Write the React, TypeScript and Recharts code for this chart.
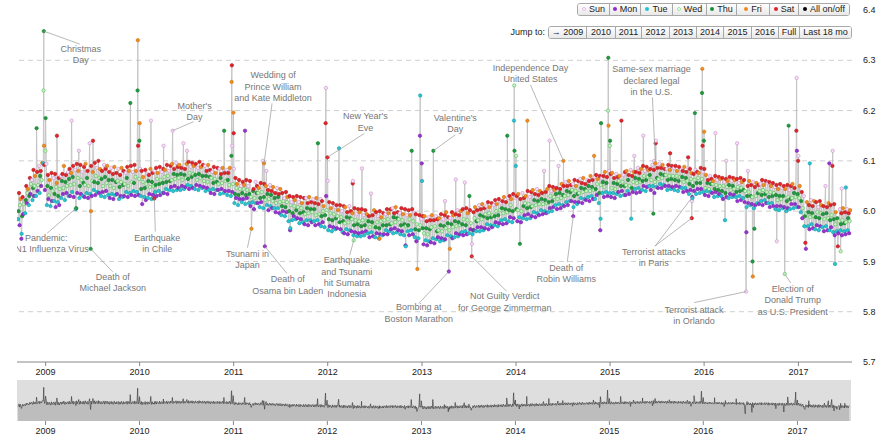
import React from "react";
import {
  ComposedChart,
  Line,
  Area,
  XAxis,
  YAxis,
  ReferenceLine,
  ReferenceDot,
  ReferenceArea,
} from "recharts";

// ---- data ----

// weekly band values: a "high" (weekend), "mid" (Wed/Thu) and "low" (Mon/Tue) value per week.
// 2008 weeks start Monday 2008-09-15; other years start on the first Monday of the year.
const hi2008 = [6.036, 6.024, 6.028, 6.022, 6.05, 6.044, 6.066, 6.062, 6.082, 6.07, 6.078, 6.09, 6.08, 6.096, 6.092, 6.094];
const mi2008 = [6.0, 6.012, 5.99, 6.014, 6.022, 6.036, 6.03, 6.054, 6.046, 6.05, 6.066, 6.052, 6.07, 6.062, 6.078, 6.06];
const lo2008 = [5.984, 5.972, 5.966, 5.994, 5.996, 6.016, 6.012, 6.034, 6.022, 6.03, 6.03, 6.04, 6.036, 6.05, 6.046, 6.042];

const hi2009 = [
  6.072, 6.062, 6.076, 6.066, 6.074, 6.056, 6.066, 6.07, 6.074, 6.09, 6.072, 6.078, 6.084,
  6.076, 6.09, 6.082, 6.094, 6.08, 6.092, 6.078, 6.088, 6.094, 6.08, 6.086, 6.09, 6.078,
  6.096, 6.086, 6.1, 6.084, 6.08, 6.092, 6.084, 6.09, 6.078, 6.086, 6.074, 6.088, 6.076,
  6.084, 6.072, 6.086, 6.08, 6.076, 6.088, 6.08, 6.09, 6.078, 6.092, 6.08, 6.094, 6.084,
];
const mi2009 = [
  6.05, 6.032, 6.046, 6.04, 6.034, 6.048, 6.03, 6.044, 6.06, 6.046, 6.058, 6.05, 6.064,
  6.052, 6.068, 6.054, 6.046, 6.066, 6.05, 6.062, 6.056, 6.052, 6.066, 6.05, 6.064, 6.06,
  6.058, 6.07, 6.056, 6.066, 6.064, 6.05, 6.068, 6.056, 6.062, 6.05, 6.062, 6.046, 6.058,
  6.06, 6.048, 6.058, 6.052, 6.054, 6.066, 6.05, 6.062, 6.058, 6.056, 6.068, 6.058, 6.064,
];
const lo2009 = [
  6.012, 6.024, 6.01, 6.02, 6.02, 6.008, 6.018, 6.012, 6.026, 6.034, 6.022, 6.036, 6.03,
  6.03, 6.038, 6.028, 6.004, 6.036, 6.026, 6.034, 6.03, 6.028, 6.036, 6.026, 6.034, 6.03,
  6.042, 6.032, 6.038, 6.036, 6.03, 6.038, 6.028, 6.04, 6.032, 6.026, 6.034, 6.024, 6.032,
  6.034, 6.024, 6.03, 6.028, 6.03, 6.038, 6.028, 6.036, 6.032, 6.04, 6.03, 6.038, 6.032,
];

const hi2010 = [
  6.08, 6.068, 6.082, 6.074, 6.072, 6.084, 6.076, 6.08, 6.086, 6.076, 6.088, 6.078, 6.084,
  6.082, 6.092, 6.08, 6.09, 6.094, 6.084, 6.096, 6.088, 6.092, 6.086, 6.096, 6.084, 6.094,
  6.098, 6.088, 6.096, 6.09, 6.094, 6.086, 6.098, 6.088, 6.092, 6.09, 6.08, 6.092, 6.082,
  6.078, 6.088, 6.076, 6.086, 6.084, 6.074, 6.086, 6.076, 6.082, 6.076, 6.086, 6.078, 6.084,
];
const mi2010 = [
  6.044, 6.058, 6.046, 6.054, 6.06, 6.048, 6.058, 6.05, 6.052, 6.064, 6.054, 6.062, 6.056,
  6.068, 6.058, 6.07, 6.06, 6.062, 6.074, 6.064, 6.072, 6.066, 6.074, 6.062, 6.072, 6.066,
  6.064, 6.076, 6.068, 6.074, 6.072, 6.062, 6.074, 6.066, 6.07, 6.06, 6.07, 6.058, 6.068,
  6.066, 6.056, 6.064, 6.058, 6.054, 6.066, 6.056, 6.064, 6.06, 6.062, 6.052, 6.06, 6.054,
];
const lo2010 = [
  6.03, 6.014, 6.028, 6.022, 6.026, 6.034, 6.024, 6.032, 6.038, 6.03, 6.04, 6.032, 6.036,
  6.036, 6.044, 6.034, 6.042, 6.048, 6.04, 6.05, 6.042, 6.046, 6.042, 6.05, 6.044, 6.048,
  6.052, 6.044, 6.05, 6.046, 6.044, 6.052, 6.042, 6.05, 6.046, 6.048, 6.04, 6.046, 6.042,
  6.036, 6.044, 6.034, 6.042, 6.042, 6.034, 6.044, 6.036, 6.04, 6.032, 6.04, 6.03, 6.038,
];

const hi2011 = [
  6.066, 6.054, 6.062, 6.05, 6.058, 6.052, 6.062, 6.05, 6.06, 6.056, 6.044, 6.058, 6.05,
  6.046, 6.056, 6.044, 6.054, 6.05, 6.042, 6.052, 6.04, 6.048, 6.036, 6.046, 6.034, 6.044,
  6.036, 6.026, 6.038, 6.028, 6.03, 6.018, 6.028, 6.022, 6.03, 6.018, 6.028, 6.016, 6.026,
  6.026, 6.016, 6.028, 6.018, 6.024, 6.016, 6.026, 6.014, 6.024, 6.02, 6.01, 6.022, 6.012,
];
const mi2011 = [
  6.034, 6.046, 6.032, 6.044, 6.036, 6.044, 6.032, 6.042, 6.034, 6.028, 6.04, 6.026, 6.036,
  6.036, 6.026, 6.038, 6.028, 6.022, 6.034, 6.024, 6.032, 6.02, 6.026, 6.016, 6.028, 6.018,
  6.01, 6.02, 6.008, 6.018, 6.0, 6.012, 5.996, 6.01, 6.002, 6.008, 5.996, 6.006, 5.998,
  5.994, 6.006, 5.996, 6.004, 5.998, 6.004, 5.992, 6.002, 5.994, 5.99, 6.0, 5.992, 6.002,
];
const lo2011 = [
  6.016, 6.026, 6.012, 6.024, 6.018, 6.024, 6.014, 6.026, 6.016, 6.01, 6.018, 6.004, 6.016,
  6.016, 6.008, 6.018, 6.006, 6.004, 6.012, 6.002, 6.01, 6.006, 6.006, 5.998, 6.006, 5.996,
  5.992, 6.0, 5.99, 5.998, 5.98, 5.99, 5.982, 5.99, 5.984, 5.986, 5.976, 5.984, 5.978,
  5.974, 5.982, 5.972, 5.982, 5.978, 5.98, 5.972, 5.982, 5.974, 5.97, 5.978, 5.968, 5.976,
];

const hi2012 = [
  6.018, 6.006, 6.016, 6.008, 6.012, 6.002, 6.012, 6.0, 6.01, 6.008, 5.998, 6.01, 6.0,
  5.996, 6.006, 5.994, 6.004, 5.998, 6.004, 5.992, 6.002, 5.994, 5.99, 6.0, 5.992, 6.002,
  5.998, 5.99, 6.0, 5.988, 5.996, 5.994, 6.004, 5.996, 6.004, 6.006, 5.996, 6.008, 5.998,
  5.996, 6.006, 5.994, 6.004, 5.992, 6.002, 5.992, 6.004, 5.996, 5.994, 5.986, 5.992, 5.984, 5.99,
];
const mi2012 = [
  5.984, 5.996, 5.982, 5.994, 5.986, 5.99, 5.978, 5.988, 5.98, 5.976, 5.988, 5.978, 5.986,
  5.984, 5.972, 5.982, 5.974, 5.98, 5.97, 5.982, 5.972, 5.98, 5.98, 5.968, 5.978, 5.97,
  5.968, 5.978, 5.966, 5.98, 5.972, 5.982, 5.972, 5.984, 5.974, 5.976, 5.988, 5.978, 5.986,
  5.984, 5.972, 5.982, 5.974, 5.97, 5.972, 5.984, 5.974, 5.98, 5.964, 5.974, 5.962, 5.972, 5.966,
];
const lo2012 = [
  5.962, 5.97, 5.96, 5.968, 5.964, 5.966, 5.956, 5.964, 5.958, 5.956, 5.964, 5.954, 5.962,
  5.96, 5.952, 5.958, 5.95, 5.956, 5.95, 5.958, 5.952, 5.96, 5.956, 5.948, 5.958, 5.95,
  5.948, 5.956, 5.946, 5.954, 5.952, 5.954, 5.962, 5.954, 5.96, 5.964, 5.956, 5.966, 5.958,
  5.962, 5.954, 5.96, 5.952, 5.948, 5.96, 5.952, 5.962, 5.954, 5.948, 5.94, 5.946, 5.938, 5.944,
];

const hi2013 = [
  5.99, 5.98, 5.988, 5.982, 5.992, 5.982, 5.99, 5.984, 5.986, 5.994, 5.984, 5.992, 5.998,
  5.988, 5.986, 5.998, 5.992, 5.994, 6.002, 5.992, 6.0, 6.004, 5.996, 6.006, 5.996, 6.002,
  6.01, 5.998, 6.008, 6.002, 6.012, 6.004, 6.014, 6.006, 6.01, 6.018, 6.008, 6.016, 6.012,
  6.022, 6.014, 6.024, 6.016, 6.02, 6.028, 6.018, 6.026, 6.03, 6.024, 6.034, 6.026, 6.03,
];
const mi2013 = [
  5.956, 5.966, 5.954, 5.964, 5.968, 5.958, 5.97, 5.96, 5.962, 5.972, 5.96, 5.97, 5.966,
  5.976, 5.962, 5.974, 5.968, 5.98, 5.97, 5.978, 5.972, 5.974, 5.984, 5.972, 5.982, 5.986,
  5.976, 5.962, 5.986, 5.98, 5.982, 5.992, 5.984, 5.99, 5.994, 5.986, 5.996, 5.988, 5.992,
  5.99, 6.0, 5.992, 6.002, 6.006, 5.996, 6.004, 5.998, 6.002, 6.012, 6.0, 6.01, 6.004,
];
const lo2013 = [
  5.934, 5.942, 5.932, 5.94, 5.938, 5.946, 5.936, 5.944, 5.948, 5.94, 5.946, 5.942, 5.944,
  5.952, 5.936, 5.95, 5.946, 5.948, 5.956, 5.95, 5.954, 5.958, 5.952, 5.96, 5.954, 5.956,
  5.964, 5.954, 5.962, 5.96, 5.968, 5.96, 5.968, 5.962, 5.966, 5.974, 5.964, 5.972, 5.968,
  5.972, 5.978, 5.97, 5.976, 5.982, 5.974, 5.984, 5.976, 5.98, 5.988, 5.978, 5.986, 5.984,
];

const hi2014 = [
  6.034, 6.024, 6.036, 6.026, 6.03, 6.04, 6.028, 6.038, 6.042, 6.034, 6.044, 6.032, 6.04,
  6.036, 6.046, 6.038, 6.044, 6.05, 6.04, 6.048, 6.042, 6.046, 6.056, 6.044, 6.054, 6.05,
  6.058, 6.05, 6.06, 6.052, 6.054, 6.062, 6.05, 6.06, 6.064, 6.056, 6.066, 6.054, 6.062,
  6.06, 6.07, 6.062, 6.068, 6.072, 6.064, 6.07, 6.066, 6.07, 6.078, 6.068, 6.08, 6.074,
];
const mi2014 = [
  6.002, 6.012, 6.0, 6.01, 6.016, 6.006, 6.014, 6.008, 6.01, 6.022, 6.012, 6.02, 6.014,
  6.024, 6.014, 6.022, 6.016, 6.018, 6.03, 6.02, 6.028, 6.034, 6.024, 6.036, 6.026, 6.032,
  6.03, 6.04, 6.032, 6.038, 6.042, 6.03, 6.04, 6.034, 6.036, 6.046, 6.038, 6.044, 6.04,
  6.05, 6.04, 6.048, 6.042, 6.044, 6.054, 6.036, 6.052, 6.058, 6.048, 6.056, 6.05, 6.058,
];
const lo2014 = [
  5.98, 5.988, 5.978, 5.986, 5.992, 5.984, 5.994, 5.986, 5.99, 5.998, 5.988, 5.996, 5.992,
  6.002, 5.994, 6.0, 5.996, 5.998, 6.006, 6.0, 6.008, 6.012, 6.004, 6.014, 6.006, 6.012,
  6.01, 6.018, 6.012, 6.02, 6.02, 6.008, 6.018, 6.014, 6.018, 6.026, 6.016, 6.024, 6.022,
  6.028, 6.02, 6.03, 6.024, 6.024, 6.032, 6.016, 6.03, 6.036, 6.028, 6.038, 6.03, 6.036,
];

const hi2015 = [
  6.076, 6.066, 6.074, 6.068, 6.07, 6.08, 6.072, 6.078, 6.08, 6.072, 6.082, 6.07, 6.078,
  6.078, 6.086, 6.076, 6.084, 6.09, 6.08, 6.088, 6.082, 6.084, 6.092, 6.082, 6.09, 6.086,
  6.094, 6.086, 6.092, 6.084, 6.084, 6.092, 6.082, 6.09, 6.086, 6.09, 6.08, 6.088, 6.082,
  6.08, 6.088, 6.078, 6.086, 6.084, 6.076, 6.074, 6.082, 6.078, 6.076, 6.086, 6.078, 6.084,
];
const mi2015 = [
  6.046, 6.056, 6.044, 6.054, 6.06, 6.05, 6.058, 6.05, 6.052, 6.062, 6.05, 6.046, 6.058,
  6.066, 6.056, 6.064, 6.058, 6.06, 6.07, 6.062, 6.068, 6.072, 6.062, 6.07, 6.058, 6.066,
  6.064, 6.074, 6.066, 6.072, 6.072, 6.062, 6.07, 6.064, 6.07, 6.062, 6.07, 6.06, 6.068,
  6.068, 6.058, 6.066, 6.06, 6.054, 6.064, 6.05, 6.062, 6.056, 6.066, 6.056, 6.064, 6.058,
];
const lo2015 = [
  6.028, 6.036, 6.026, 6.034, 6.038, 6.03, 6.04, 6.032, 6.032, 6.04, 6.034, 6.024, 6.038,
  6.044, 6.036, 6.046, 6.038, 6.042, 6.05, 6.04, 6.048, 6.05, 6.042, 6.05, 6.036, 6.048,
  6.046, 6.054, 6.046, 6.052, 6.05, 6.042, 6.05, 6.044, 6.048, 6.042, 6.05, 6.04, 6.048,
  6.046, 6.038, 6.046, 6.04, 6.034, 6.042, 6.026, 6.04, 6.034, 6.044, 6.036, 6.044, 6.038,
];

const hi2016 = [
  6.072, 6.062, 6.07, 6.064, 6.06, 6.07, 6.062, 6.068, 6.064, 6.066, 6.058, 6.064, 6.06,
  6.068, 6.06, 6.066, 6.062, 6.064, 6.056, 6.066, 6.058, 6.062, 6.058, 6.05, 6.06, 6.052,
  6.058, 6.048, 6.056, 6.052, 6.054, 6.062, 6.052, 6.06, 6.056, 6.058, 6.05, 6.056, 6.048,
  6.052, 6.044, 6.054, 6.046, 6.05, 6.044, 6.052, 6.042, 6.05, 6.054, 6.046, 6.056, 6.048,
];
const mi2016 = [
  6.046, 6.056, 6.044, 6.054, 6.054, 6.044, 6.052, 6.042, 6.05, 6.04, 6.05, 6.036, 6.048,
  6.052, 6.042, 6.05, 6.044, 6.038, 6.048, 6.04, 6.046, 6.042, 6.04, 6.03, 6.038, 6.03,
  6.028, 6.038, 6.03, 6.036, 6.04, 6.032, 6.042, 6.034, 6.038, 6.028, 6.038, 6.03, 6.036,
  6.032, 6.022, 6.03, 6.024, 6.03, 6.03, 6.02, 6.028, 6.024, 6.026, 6.036, 6.028, 6.034,
];
const lo2016 = [
  6.032, 6.04, 6.03, 6.038, 6.036, 6.028, 6.038, 6.03, 6.034, 6.03, 6.024, 6.018, 6.028,
  6.026, 6.034, 6.028, 6.032, 6.028, 6.02, 6.03, 6.022, 6.026, 6.018, 6.008, 6.016, 6.012,
  6.014, 6.006, 6.012, 6.016, 6.014, 6.02, 6.012, 6.022, 6.016, 6.016, 6.008, 6.016, 6.01,
  6.004, 6.01, 6.002, 6.01, 6.006, 6.008, 6.0, 6.006, 6.004, 6.014, 6.006, 6.014, 6.008,
];

const hi2017 = [
  6.05, 6.038, 6.03, 6.014, 6.018, 6.012, 6.022, 6.01, 6.02, 6.018, 6.008, 6.02, 6.012,
  6.01, 6.018, 6.008, 6.016, 6.012, 6.004, 6.014, 5.998, 6.008, 6.004, 5.996, 6.006, 5.998,
  6.004, 5.996, 6.002,
];
const mi2017 = [
  6.026, 6.02, 6.006, 5.99, 5.996, 5.998, 5.988, 5.996, 5.99, 5.988, 5.998, 5.986, 5.996,
  5.994, 5.984, 5.996, 5.986, 5.982, 5.992, 5.984, 5.974, 5.986, 5.98, 5.974, 5.982, 5.976,
  5.978, 5.986, 5.98,
];
const lo2017 = [
  6.008, 5.998, 5.986, 5.97, 5.964, 5.97, 5.964, 5.974, 5.966, 5.964, 5.972, 5.962, 5.97,
  5.968, 5.96, 5.97, 5.962, 5.962, 5.968, 5.958, 5.952, 5.96, 5.956, 5.962, 5.952, 5.96,
  5.954, 5.962, 5.956,
];

// single days that stand out from the band (holidays, news events)
const events: [string, number][] = [
  ["2008-09-29", 5.945], ["2008-09-30", 5.955], ["2008-11-27", 6.165], ["2008-12-23", 6.095],
  ["2008-12-24", 6.24], ["2008-12-25", 6.358], ["2008-12-26", 6.13], ["2008-12-31", 6.12],
  ["2009-01-01", 6.185], ["2009-02-14", 6.15], ["2009-04-12", 6.18], ["2009-04-30", 6.006],
  ["2009-05-10", 6.12], ["2009-06-21", 6.135], ["2009-06-25", 5.925], ["2009-06-26", 6.0],
  ["2009-07-04", 6.14], ["2009-11-26", 6.215], ["2009-12-24", 6.24], ["2009-12-25", 6.34],
  ["2009-12-26", 6.13], ["2009-12-31", 6.14], ["2010-01-01", 6.175], ["2010-02-14", 6.18],
  ["2010-02-27", 6.025], ["2010-04-04", 6.13], ["2010-05-09", 6.16], ["2010-06-20", 6.135],
  ["2010-07-04", 6.12], ["2010-11-25", 6.16], ["2010-12-23", 6.11], ["2010-12-24", 6.257],
  ["2010-12-25", 6.29], ["2010-12-26", 6.13], ["2010-12-31", 6.196], ["2011-01-01", 6.155],
  ["2011-02-14", 6.16], ["2011-03-11", 5.965], ["2011-04-24", 6.1], ["2011-04-29", 6.095],
  ["2011-05-02", 5.93], ["2011-05-08", 6.08], ["2011-08-08", 5.962], ["2011-08-09", 5.966],
  ["2011-11-24", 6.135], ["2011-12-24", 6.175], ["2011-12-25", 6.245], ["2011-12-26", 6.03],
  ["2011-12-31", 6.107], ["2012-01-01", 6.06], ["2012-02-14", 6.125], ["2012-04-07", 6.055],
  ["2012-04-08", 6.06], ["2012-04-11", 5.942], ["2012-05-13", 6.085], ["2012-06-17", 6.035],
  ["2012-07-20", 5.945], ["2012-10-29", 5.932], ["2012-10-30", 5.93], ["2012-11-22", 6.12],
  ["2012-12-14", 5.885], ["2012-12-24", 6.15], ["2012-12-25", 6.23], ["2012-12-31", 6.095],
  ["2013-01-01", 6.06], ["2013-02-14", 6.12], ["2013-03-31", 6.02], ["2013-04-15", 5.88],
  ["2013-04-19", 5.925], ["2013-05-12", 6.063], ["2013-06-16", 6.057], ["2013-07-04", 6.03],
  ["2013-07-13", 5.91], ["2013-07-14", 5.935], ["2013-11-28", 6.15], ["2013-12-24", 6.18],
  ["2013-12-25", 6.25], ["2013-12-26", 6.12], ["2013-12-31", 6.09], ["2014-01-01", 6.11],
  ["2014-01-16", 5.935], ["2014-02-14", 6.18], ["2014-04-20", 6.08], ["2014-05-11", 6.14],
  ["2014-06-15", 6.09], ["2014-07-04", 6.1], ["2014-08-11", 5.99], ["2014-10-31", 6.11],
  ["2014-11-24", 5.962], ["2014-11-25", 5.985], ["2014-11-27", 6.175], ["2014-12-24", 6.2],
  ["2014-12-25", 6.305], ["2014-12-26", 6.17], ["2014-12-31", 6.13], ["2015-01-01", 6.14],
  ["2015-02-14", 6.18], ["2015-03-24", 5.985], ["2015-04-05", 6.11], ["2015-05-10", 6.15],
  ["2015-06-18", 5.995], ["2015-06-21", 6.1], ["2015-06-26", 6.095], ["2015-06-27", 6.135],
  ["2015-06-28", 6.14], ["2015-08-22", 6.115], ["2015-10-31", 6.107], ["2015-11-14", 5.986],
  ["2015-11-15", 6.02], ["2015-11-16", 6.028], ["2015-11-26", 6.195], ["2015-12-24", 6.235],
  ["2015-12-25", 6.283], ["2015-12-26", 6.13], ["2015-12-31", 6.14], ["2016-01-01", 6.158],
  ["2016-02-14", 6.155], ["2016-03-22", 5.982], ["2016-03-27", 6.1], ["2016-05-08", 6.135],
  ["2016-06-12", 5.84], ["2016-06-13", 5.958], ["2016-06-19", 6.08], ["2016-07-07", 5.9],
  ["2016-07-08", 5.87], ["2016-07-14", 5.965], ["2016-10-09", 5.94], ["2016-11-09", 5.875],
  ["2016-11-24", 6.17], ["2016-12-24", 6.16], ["2016-12-25", 6.265], ["2016-12-26", 6.12],
  ["2016-12-31", 6.1], ["2017-01-01", 6.11], ["2017-01-28", 5.937], ["2017-01-30", 5.925],
  ["2017-02-14", 6.095], ["2017-04-16", 6.05], ["2017-05-01", 6.095], ["2017-05-13", 6.09],
  ["2017-05-14", 6.12], ["2017-05-23", 5.895], ["2017-06-03", 5.93], ["2017-06-14", 5.92],
  ["2017-06-18", 6.045], ["2017-07-04", 6.047],
];

// annotated days and their label text
const notes: [string, string[]][] = [
  ["2008-12-25", ["Christmas", "Day"]],
  ["2010-05-09", ["Mother's", "Day"]],
  ["2011-04-29", ["Wedding of", "Prince William", "and Kate Middleton"]],
  ["2011-12-31", ["New Year's", "Eve"]],
  ["2013-02-14", ["Valentine's", "Day"]],
  ["2014-07-04", ["Independence Day", "United States"]],
  ["2015-06-26", ["Same-sex marriage", "declared legal", "in the U.S."]],
  ["2009-04-30", ["Pandemic:", "H1N1 Influenza Virus"]],
  ["2010-02-27", ["Earthquake", "in Chile"]],
  ["2009-06-25", ["Death of", "Michael Jackson"]],
  ["2011-03-11", ["Tsunami in", "Japan"]],
  ["2011-05-02", ["Death of", "Osama bin Laden"]],
  ["2012-04-11", ["Earthquake", "and Tsunami", "hit Sumatra", "Indonesia"]],
  ["2013-04-15", ["Bombing at", "Boston Marathon"]],
  ["2013-07-13", ["Not Guilty Verdict", "for George Zimmerman"]],
  ["2014-08-11", ["Death of", "Robin Williams"]],
  ["2015-11-14", ["Terrorist attacks", "in Paris"]],
  ["2015-11-16", []],
  ["2016-06-12", ["Terrorist attack", "in Orlando"]],
  ["2016-11-09", ["Election of", "Donald Trump", "as U.S. President"]],
];

const yearTickLabels = [2009, 2010, 2011, 2012, 2013, 2014, 2015, 2016, 2017];
const yTicks = [5.7, 5.8, 5.9, 6.0, 6.1, 6.2, 6.3, 6.4];
const gridValues = [5.8, 5.9, 6.0, 6.1, 6.2, 6.3];
const dayButtons = ["Sun", "Mon", "Tue", "Wed", "Thu", "Fri", "Sat", "All on/off"];
const jumpButtons = ["\u2192 2009", "2010", "2011", "2012", "2013", "2014", "2015", "2016", "Full", "Last 18 mo"];

// ---- layout / style ----
const FONT = "'Liberation Sans', Arial, Helvetica, sans-serif";
const PLOT_LEFT = 17;
// leader end dx, dy and text centre dx, first baseline dy, relative to the marked point (px)
const noteOffsets: Record<string, [number, number, number, number]> = {
  "2008-12-25": [36, 13, 37, 21],
  "2010-05-09": [21, -9, 22, -22],
  "2011-04-29": [8, -60, 9, -85],
  "2011-12-31": [37, -24, 38, -38],
  "2013-02-14": [22, -16, 22, -30],
  "2014-07-04": [-33, -76, -33, -90],
  "2015-06-26": [-3, -66, -4, -91],
  "2009-04-30": [-29, 25, -30, 33],
  "2010-02-27": [1, 33, 3, 42],
  "2009-06-25": [22, 23, 22, 31],
  "2011-03-11": [-4, 19, -4, 28],
  "2011-05-02": [22, 27, 23, 36],
  "2012-04-11": [-4, 15, -7, 23],
  "2013-04-15": [-30, 32, -30, 39],
  "2013-07-13": [35, 35, 33, 43],
  "2014-08-11": [-6, 46, -7, 55],
  "2015-11-14": [-37, 28, -38, 37],
  "2015-11-16": [-37, 49, 0, 0],
  "2016-06-12": [-52, 11, -52, 21],
  "2016-11-09": [6, 9, 8, 18],
};
const dayButtonWidths = [31, 31, 32, 34, 30, 33, 29, 51];
const jumpButtonWidths = [37, 29, 26, 28, 27, 27, 28, 27, 21, 52];

const DAY_STYLE = [
  { fill: "#f7def7", stroke: "#c98fc9" }, // Sun
  { fill: "#9a32d4", stroke: "#7420a8" }, // Mon
  { fill: "#25c6d4", stroke: "#139aa6" }, // Tue
  { fill: "#c6f2c6", stroke: "#5cba5c" }, // Wed
  { fill: "#1f9a3e", stroke: "#137a2c" }, // Thu
  { fill: "#f28c1e", stroke: "#c96f0c" }, // Fri
  { fill: "#e3242b", stroke: "#b3141a" }, // Sat
];
const BUTTON_DOT = ["#e9b8e9", "#8e2bd0", "#20c4d2", "#9be39b", "#17913a", "#f08a1e", "#e0202a", "#000"];

// ---- build the daily table ----
const DAY = 86400000;
const toTime = (s: string) => {
  const [y, m, d] = s.split("-").map(Number);
  return Date.UTC(y, m - 1, d);
};
const firstMonday = (y: number) => {
  const wd = new Date(Date.UTC(y, 0, 1)).getUTCDay();
  return Date.UTC(y, 0, 1 + ((8 - wd) % 7));
};

const START = toTime("2008-09-12");
const END = toTime("2017-07-28");
const yearTicks = yearTickLabels.map((y) => Date.UTC(y, 0, 1));

const blocks = [
  { start: toTime("2008-09-15"), hi: hi2008, mi: mi2008, lo: lo2008 },
  { start: firstMonday(2009), hi: hi2009, mi: mi2009, lo: lo2009 },
  { start: firstMonday(2010), hi: hi2010, mi: mi2010, lo: lo2010 },
  { start: firstMonday(2011), hi: hi2011, mi: mi2011, lo: lo2011 },
  { start: firstMonday(2012), hi: hi2012, mi: mi2012, lo: lo2012 },
  { start: firstMonday(2013), hi: hi2013, mi: mi2013, lo: lo2013 },
  { start: firstMonday(2014), hi: hi2014, mi: mi2014, lo: lo2014 },
  { start: firstMonday(2015), hi: hi2015, mi: mi2015, lo: lo2015 },
  { start: firstMonday(2016), hi: hi2016, mi: mi2016, lo: lo2016 },
  { start: firstMonday(2017), hi: hi2017, mi: mi2017, lo: lo2017 },
];

// which weekday (offset from Monday) each weekly value is plotted on
const HI_DAYS = [5, 4, 5, 6]; // Sat, Fri, Sat, Sun
const MI_DAYS = [3, 2]; // Thu, Wed
const LO_DAYS = [1, 0]; // Tue, Mon

const byDay = new Map<number, number>();
let week = 0;
blocks.forEach((b) => {
  b.hi.forEach((h, i) => {
    const base = b.start + i * 7 * DAY;
    byDay.set(base + LO_DAYS[week % LO_DAYS.length] * DAY, b.lo[i]);
    byDay.set(base + MI_DAYS[week % MI_DAYS.length] * DAY, b.mi[i]);
    byDay.set(base + HI_DAYS[week % HI_DAYS.length] * DAY, h);
    week += 1;
  });
});
const eventValue = new Map<string, number>();
events.forEach(([d, v]) => {
  byDay.set(toTime(d), v);
  eventValue.set(d, v);
});
const data = Array.from(byDay.entries())
  .sort((a, b) => a[0] - b[0])
  .map(([t, v]) => ({ t, v }));

// ---- pieces ----
const renderDot = (p: any) => {
  const { cx, cy, payload, index } = p;
  if (cx == null || cy == null) return <g key={`e${index}`} />;
  const s = DAY_STYLE[new Date(payload.t).getUTCDay()];
  return <circle key={`d${index}`} cx={cx} cy={cy} r={1.7} fill={s.fill} stroke={s.stroke} strokeWidth={0.6} />;
};

const noteShape = (date: string, lines: string[]) => (p: any) => {
  const { cx, cy } = p;
  const [lx, ly, tx, ty] = noteOffsets[date];
  return (
    <g>
      <defs>
        <clipPath id={`clip-${date}`}>
          <rect x={PLOT_LEFT} y={0} width={860} height={362} />
        </clipPath>
      </defs>
      <line x1={cx} y1={cy} x2={cx + lx} y2={cy + ly} stroke="#999" strokeWidth={0.7} />
      <g clipPath={`url(#clip-${date})`}>
        {lines.map((l, i) => (
          <text
            key={l}
            x={cx + tx}
            y={cy + ty + i * 11.3}
            textAnchor="middle"
            fontSize={9}
            fontFamily={FONT}
            fill="#777"
          >
            {l}
          </text>
        ))}
      </g>
    </g>
  );
};

function ButtonRow({ labels, widths, left, top, dots }: { labels: string[]; widths: number[]; left: number; top: number; dots?: string[] }) {
  return (
    <div
      style={{
        position: "absolute",
        left,
        top,
        height: 13,
        display: "flex",
        border: "1px solid #a8a8a8",
        borderRadius: 3,
        overflow: "hidden",
        boxSizing: "border-box",
        fontFamily: FONT,
        fontSize: 9,
        color: "#222",
      }}
    >
      {labels.map((l, i) => (
        <div
          key={l}
          style={{
            width: widths[i],
            boxSizing: "border-box",
            borderLeft: i ? "1px solid #a8a8a8" : "none",
            background: "linear-gradient(#ffffff, #e8e8e8)",
            lineHeight: "11px",
            textAlign: "center",
            whiteSpace: "nowrap",
          }}
        >
          {dots && (
            <span
              style={{
                display: "inline-block",
                width: 4,
                height: 4,
                borderRadius: 2,
                background: i === 0 || i === 3 ? "#fff" : dots[i],
                border: i === 0 || i === 3 ? `1px solid ${dots[i]}` : "none",
                boxSizing: "border-box",
                marginRight: 3,
                verticalAlign: 1,
              }}
            />
          )}
          {l}
        </div>
      ))}
    </div>
  );
}

const axisTick = { fontSize: 9, fill: "#222", fontFamily: FONT };

export default function App() {
  return (
    <div style={{ position: "absolute", left: 0, top: 0, width: 885, height: 448, background: "#fff", fontFamily: FONT }}>
      <div style={{ position: "absolute", left: 0, top: 0 }}>
        <ComposedChart width={885} height={385} data={data} margin={{ top: 10, right: 0, bottom: 0, left: PLOT_LEFT }}>
          <XAxis
            dataKey="t"
            type="number"
            domain={[START, END]}
            ticks={yearTicks}
            tickFormatter={(t: number) => String(new Date(t).getUTCFullYear())}
            tick={axisTick}
            tickSize={4}
            tickMargin={3}
            height={23}
            stroke="#888"
            allowDataOverflow
          />
          <YAxis
            orientation="right"
            type="number"
            domain={[5.7, 6.4]}
            ticks={yTicks}
            tickFormatter={(v: number) => v.toFixed(1)}
            tick={axisTick}
            axisLine={false}
            tickLine={false}
            tickMargin={5}
            width={33}
            allowDataOverflow
          />
          {gridValues.map((g) => (
            <ReferenceLine key={g} y={g} stroke="#cfcfcf" strokeDasharray="5 4" />
          ))}
          <Line
            dataKey="v"
            type="linear"
            stroke="#c2c2c2"
            strokeWidth={0.9}
            dot={renderDot}
            activeDot={false}
            isAnimationActive={false}
          />
          {notes.map(([d, lines]) => (
            <ReferenceDot
              key={d}
              x={toTime(d)}
              y={eventValue.get(d) ?? 6}
              r={0}
              shape={noteShape(d, lines)}
            />
          ))}
        </ComposedChart>
      </div>

      <div style={{ position: "absolute", left: 0, top: 380 }}>
        <ComposedChart width={885} height={68} data={data} margin={{ top: 0, right: 34, bottom: 0, left: PLOT_LEFT }}>
          <XAxis
            dataKey="t"
            type="number"
            domain={[START, END]}
            ticks={yearTicks}
            tickFormatter={(t: number) => String(new Date(t).getUTCFullYear())}
            tick={axisTick}
            tickSize={4}
            tickMargin={3}
            height={27}
            axisLine={false}
            stroke="#888"
            allowDataOverflow
          />
          <YAxis type="number" domain={[5.7, 6.5]} hide allowDataOverflow />
          <ReferenceArea x1={START} x2={END} y1={5.7} y2={6.5} fill="#dedede" fillOpacity={1} stroke="none" />
          <Area
            dataKey="v"
            type="linear"
            baseValue={5.7}
            stroke="#333"
            strokeWidth={0.6}
            fill="#bdbdbd"
            fillOpacity={1}
            dot={false}
            activeDot={false}
            isAnimationActive={false}
          />
        </ComposedChart>
      </div>

      <ButtonRow labels={dayButtons} widths={dayButtonWidths} left={577} top={3} dots={BUTTON_DOT} />
      <div
        style={{
          position: "absolute",
          left: 490,
          top: 26,
          width: 55,
          textAlign: "right",
          fontSize: 9,
          lineHeight: "13px",
          color: "#222",
        }}
      >
        Jump to:
      </div>
      <ButtonRow labels={jumpButtons} widths={jumpButtonWidths} left={548} top={26} />
    </div>
  );
}
